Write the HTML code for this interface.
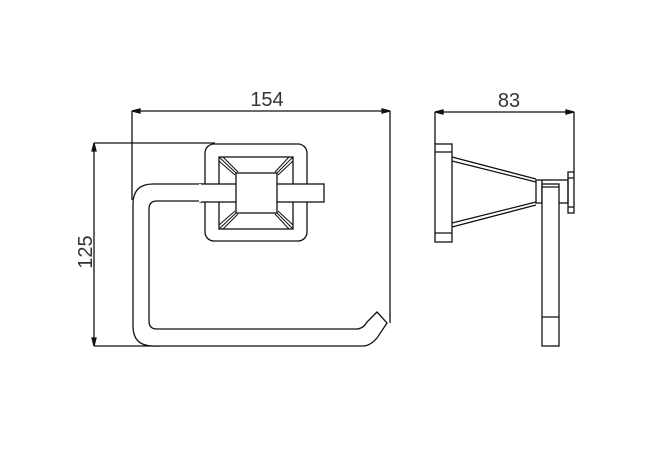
<!DOCTYPE html>
<html><head><meta charset="utf-8"><style>
html,body{margin:0;padding:0;background:#fff;}
svg{display:block;}
text{font-family:"Liberation Sans",sans-serif;font-size:20px;fill:#333;}
</style></head><body>
<svg width="645" height="452" viewBox="0 0 645 452" xmlns="http://www.w3.org/2000/svg" fill="none" stroke="#111" stroke-width="1.3">
<!-- 154 dimension -->
<line x1="132" y1="111" x2="390" y2="111"/>
<path d="M132 111 l8 -2 v4 z M390 111 l-8 -2 v4 z" fill="#111"/>
<line x1="132" y1="111" x2="132" y2="200"/>
<line x1="390" y1="111" x2="390" y2="323"/>
<text x="267" y="106" text-anchor="middle" stroke="none">154</text>
<!-- 125 dimension -->
<line x1="94" y1="143" x2="94" y2="346"/>
<path d="M94 143 l-2 8 h4 z M94 346 l-2 -8 h4 z" fill="#111"/>
<line x1="94" y1="143" x2="215" y2="143"/>
<line x1="94" y1="346" x2="160" y2="346"/>
<text x="0" y="0" text-anchor="middle" stroke="none" transform="translate(92,252) rotate(-90)">125</text>
<!-- loop -->
<path d="M205 184 H153 Q133 184 133 204 V326 Q133 346 153 346 H363 Q370 346 377 338 L387 323 L377 312 L367 322 Q363 329 356 329 H157 Q149 329 149 321 V209 Q149 201 157 201 H205" fill="#fff"/>
<!-- plate -->
<rect x="205" y="144" width="102" height="97" rx="9" fill="#fff"/>
<rect x="219" y="157" width="74" height="72" fill="#fff"/>
<path d="M219 157 L236 173 M223 157 L238 172 M219 161 L235 175 M293 157 L277 173 M289 157 L275 172 M293 161 L278 175 M219 229 L236 213 M223 229 L238 214 M219 225 L235 211 M293 229 L277 213 M289 229 L275 214 M293 225 L278 211" stroke-width="1"/>
<rect x="200" y="184" width="124" height="18" fill="#fff"/>
<line x1="200" y1="184" x2="200" y2="202" stroke="#fff" stroke-width="2"/>
<rect x="236" y="173" width="41" height="40" fill="#fff"/>
<!-- 83 dimension -->
<line x1="435" y1="112" x2="574" y2="112"/>
<path d="M435 112 l8 -2 v4 z M574 112 l-8 -2 v4 z" fill="#111"/>
<line x1="435" y1="112" x2="435" y2="144"/>
<line x1="574" y1="112" x2="574" y2="172"/>
<text x="509" y="107" text-anchor="middle" stroke="none">83</text>
<!-- side view -->
<rect x="435" y="144" width="17" height="98"/>
<line x1="435" y1="152" x2="452" y2="152"/>
<line x1="435" y1="233" x2="452" y2="233"/>
<path d="M452 157 L536 179 M452 161 L536 182 M452 227 L536 205 M452 223 L536 202"/>
<rect x="536" y="180" width="32" height="23"/>
<line x1="542" y1="180" x2="542" y2="203"/>
<rect x="568" y="172" width="6" height="41"/>
<line x1="568" y1="178" x2="574" y2="178"/>
<line x1="568" y1="207" x2="574" y2="207"/>
<rect x="542" y="184" width="17" height="162" fill="#fff"/>
<line x1="542" y1="187" x2="559" y2="187"/>
<line x1="542" y1="317" x2="559" y2="317"/>
</svg>
</body></html>
